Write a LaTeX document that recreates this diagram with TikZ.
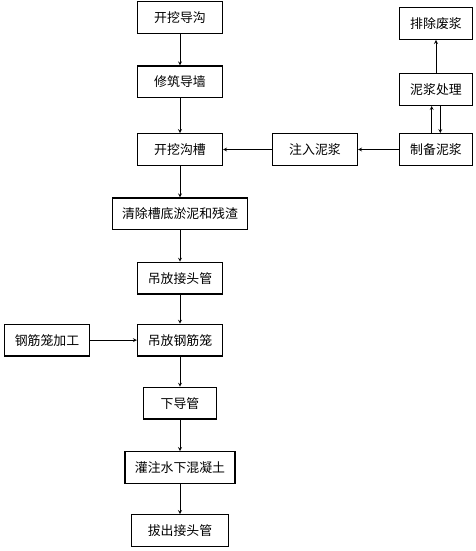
\documentclass[tikz,border=0pt]{standalone}
\usepackage{fontspec}
\newfontfamily\cjk{Noto Sans CJK SC}
\begin{document}
\begin{tikzpicture}[
node distance=1.93cm,
box/.style={draw, line width=1.1pt, align=center, inner xsep=0.2cm, minimum width=2.55cm, minimum height=0.95cm, font=\cjk\fontsize{11}{13}\selectfont},
sidebox/.style={box, minimum width=2.2cm},
arrow/.style={-stealth, line width=0.5pt}
]
\useasboundingbox (0,0) rectangle (14.25,-16.53);
\node[box] (guide) at (5.4,-0.525) {开挖导沟};
\node[box, below of=guide] (wall) {修筑导墙};
\node[box, below of=wall, node distance=2.03cm] (trench) {开挖沟槽};
\node[box, below of=trench, minimum width=4.05cm] (clean) {清除槽底淤泥和残渣};
\node[box, below of=clean] (joint) {吊放接头管};
\node[box, below of=joint, node distance=1.86cm] (cage) {吊放钢筋笼};
\node[box, below of=cage, minimum width=2.2cm, node distance=1.89cm] (pipe) {下导管};
\node[box, below of=pipe, minimum width=3.3cm] (pour) {灌注水下混凝土};
\node[box, below of=pour, minimum width=2.9cm, node distance=1.89cm] (pull) {拔出接头管};
% slurry side
\node[box, right of=trench, node distance=4.05cm] (inject) {注入泥浆};
\node[sidebox, right of=inject, node distance=3.63cm] (prepare) {制备泥浆};
\node[sidebox, above of=prepare, node distance=1.8cm] (treat) {泥浆处理};
\node[sidebox, above of=treat, node distance=1.98cm] (waste) {排除废浆};
% steel cage
\node[box, left of=cage, node distance=3.99cm] (steel) {钢筋笼加工};
\draw[arrow] (guide) -- (wall);
\draw[arrow] (wall) -- (trench);
\draw[arrow] (trench) -- (clean);
\draw[arrow] (clean) -- (joint);
\draw[arrow] (joint) -- (cage);
\draw[arrow] (cage) -- (pipe);
\draw[arrow] (pipe) -- (pour);
\draw[arrow] (pour) -- (pull);
\draw[arrow] (steel) -- (cage);
\draw[arrow] (prepare) -- (inject);
\draw[arrow] (inject) -- (trench);
\draw[arrow] ([xshift=-0.13cm]prepare.north) -- ([xshift=-0.13cm]treat.south);
\draw[arrow] ([xshift=0.13cm]treat.south) -- ([xshift=0.13cm]prepare.north);
\draw[arrow] (treat) -- (waste);
\end{tikzpicture}
\end{document}
